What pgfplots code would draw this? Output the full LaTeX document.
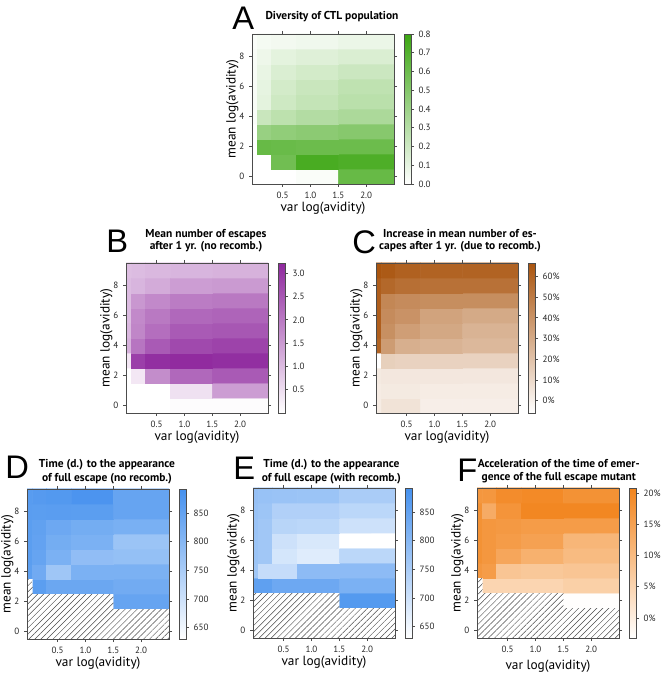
\documentclass[border=0pt]{standalone}
\usepackage{fontspec}
\setmainfont{PT Sans}
\newfontfamily\letterfont{Liberation Sans}
\usepackage{pgfplots}
\pgfplotsset{compat=1.18}
\usepackage{pgfplotstable}
\usetikzlibrary{patterns.meta}

\pgfkeys{/pgf/number format/assume math mode=true}

\pgfplotsset{
  colormap={cgreen}{rgb255=(255,255,255) rgb255=(60,166,18)},
  colormap={cpurple}{rgb255=(255,255,255) rgb255=(143,40,158)},
  colormap={cbrown}{rgb255=(255,255,255) rgb255=(170,85,15)},
  colormap={cblue}{rgb255=(255,255,255) rgb255=(70,145,238)},
  colormap={corange}{rgb255=(255,255,255) rgb255=(242,132,28)},
  colorbar shift/.style={xshift=7.5pt},
  hm/.style={
    scale only axis, width=106.5pt, height=112.5pt, anchor=north west,
    xmin=-0.05, xmax=2.5, ymin=-0.5, ymax=9.5,
    xtick={0.5,1,1.5,2}, ytick={0,2,4,6,8},
    xticklabels={0.5,1.0,1.5,2.0},
    tick align=outside, major tick length=2.25pt,
    axis line style={draw=black!70, line width=0.6pt},
    every tick/.style={black!70, line width=0.5pt},
    tick label style={font=\fontsize{6.8}{7}\selectfont, text=black!85},
    label style={font=\fontsize{6.9}{8}\selectfont, text=black!85},
    xlabel={var log(avidity)}, ylabel={mean log(avidity)},
    every axis x label/.style={at={(axis description cs:0.5,-0.16)}, anchor=center},
    every axis y label/.style={at={(axis description cs:-0.138,0.5)}, anchor=center, rotate=90},
    axis on top,
    colorbar,
    colorbar style={at={(parent axis.north east)}, anchor=north west,
      width=5.5pt, ytick pos=right, yticklabel pos=right,
      tick align=outside, major tick length=2pt,
      axis line style={draw=black!70, line width=0.6pt},
      every tick/.style={black!70, line width=0.5pt},
      tick label style={font=\fontsize{6.8}{7}\selectfont, text=black!85}},
  },
  hatch/.style={draw=none, fill=white, postaction={pattern={Lines[angle=45,distance=3.2pt,line width=0.35pt]}, pattern color=black!70}},
}

\pgfplotstableread[row sep=\\]{
x y c\\
0 0 0\\ 0.1 0 0\\ 0.5 0 0\\ 1 0 0.02\\ 2 0 0.62\\
0 1 0\\ 0.1 1 0\\ 0.5 1 0.58\\ 1 1 0.74\\ 2 1 0.72\\
0 2 0\\ 0.1 2 0.62\\ 0.5 2 0.61\\ 1 2 0.60\\ 2 2 0.60\\
0 3 0\\ 0.1 3 0.42\\ 0.5 3 0.45\\ 1 3 0.47\\ 2 3 0.49\\
0 4 0.02\\ 0.1 4 0.22\\ 0.5 4 0.27\\ 1 4 0.31\\ 2 4 0.34\\
0 5 0.03\\ 0.1 5 0.11\\ 0.5 5 0.20\\ 1 5 0.24\\ 2 5 0.28\\
0 6 0.03\\ 0.1 6 0.10\\ 0.5 6 0.18\\ 1 6 0.22\\ 2 6 0.26\\
0 7 0.03\\ 0.1 7 0.09\\ 0.5 7 0.15\\ 1 7 0.18\\ 2 7 0.21\\
0 8 0.03\\ 0.1 8 0.07\\ 0.5 8 0.11\\ 1 8 0.13\\ 2 8 0.15\\
0 9 0.02\\ 0.1 9 0.04\\ 0.5 9 0.05\\ 1 9 0.06\\ 2 9 0.08\\
}\tabA

\pgfplotstableread[row sep=\\]{
x y c\\
0 0 0\\ 0.1 0 0\\ 0.5 0 0\\ 1 0 0.05\\ 2 0 0.05\\
0 1 0\\ 0.1 1 0\\ 0.5 1 0\\ 1 1 0.45\\ 2 1 1.45\\
0 2 0\\ 0.1 2 0.35\\ 0.5 2 1.70\\ 1 2 2.25\\ 2 2 2.45\\
0 3 0.35\\ 0.1 3 2.85\\ 0.5 3 3.10\\ 1 3 3.15\\ 2 3 3.10\\
0 4 1.15\\ 0.1 4 2.05\\ 0.5 4 2.45\\ 1 4 2.70\\ 2 4 2.80\\
0 5 1.05\\ 0.1 5 1.80\\ 0.5 5 2.15\\ 1 5 2.45\\ 2 5 2.50\\
0 6 1.00\\ 0.1 6 1.75\\ 0.5 6 2.00\\ 1 6 2.25\\ 2 6 2.30\\
0 7 1.00\\ 0.1 7 1.55\\ 0.5 7 1.75\\ 1 7 1.95\\ 2 7 2.00\\
0 8 1.00\\ 0.1 8 1.10\\ 0.5 8 1.25\\ 1 8 1.45\\ 2 8 1.50\\
0 9 0.95\\ 0.1 9 1.00\\ 0.5 9 1.05\\ 1 9 1.10\\ 2 9 1.15\\
}\tabB

\pgfplotstableread[row sep=\\]{
x y c\\
0 0 2\\ 0.1 0 6\\ 0.5 0 6\\ 1 0 1\\ 2 0 1\\
0 1 2\\ 0.1 1 3\\ 0.5 1 3\\ 1 1 2\\ 2 1 2\\
0 2 3\\ 0.1 2 4\\ 0.5 2 4\\ 1 2 4\\ 2 2 4\\
0 3 -6\\ 0.1 3 14\\ 0.5 3 13\\ 1 3 13\\ 2 3 13\\
0 4 60\\ 0.1 4 36\\ 0.5 4 28\\ 1 4 26\\ 2 4 24\\
0 5 62\\ 0.1 5 41\\ 0.5 5 35\\ 1 5 31\\ 2 5 26\\
0 6 62\\ 0.1 6 43\\ 0.5 6 40\\ 1 6 33\\ 2 6 30\\
0 7 62\\ 0.1 7 45\\ 0.5 7 43\\ 1 7 42\\ 2 7 42\\
0 8 62\\ 0.1 8 58\\ 0.5 8 55\\ 1 8 54\\ 2 8 54\\
0 9 66\\ 0.1 9 64\\ 0.5 9 61\\ 1 9 60\\ 2 9 60\\
}\tabC

\pgfplotstableread[row sep=\\]{
x y c\\
0 0 630\\ 0.1 0 630\\ 0.5 0 630\\ 1 0 630\\ 2 0 630\\
0 1 630\\ 0.1 1 630\\ 0.5 1 630\\ 1 1 630\\ 2 1 630\\
0 2 630\\ 0.1 2 630\\ 0.5 2 630\\ 1 2 630\\ 2 2 845\\
0 3 630\\ 0.1 3 860\\ 0.5 3 838\\ 1 3 838\\ 2 3 828\\
0 4 858\\ 0.1 4 830\\ 0.5 4 765\\ 1 4 815\\ 2 4 815\\
0 5 860\\ 0.1 5 845\\ 0.5 5 815\\ 1 5 785\\ 2 5 780\\
0 6 860\\ 0.1 6 850\\ 0.5 6 825\\ 1 6 815\\ 2 6 770\\
0 7 860\\ 0.1 7 852\\ 0.5 7 835\\ 1 7 825\\ 2 7 818\\
0 8 862\\ 0.1 8 860\\ 0.5 8 862\\ 1 8 860\\ 2 8 845\\
0 9 865\\ 0.1 9 868\\ 0.5 9 872\\ 1 9 882\\ 2 9 845\\
}\tabD

\pgfplotstableread[row sep=\\]{
x y c\\
0 0 630\\ 0.1 0 630\\ 0.5 0 630\\ 1 0 630\\ 2 0 630\\
0 1 630\\ 0.1 1 630\\ 0.5 1 630\\ 1 1 630\\ 2 1 630\\
0 2 630\\ 0.1 2 630\\ 0.5 2 630\\ 1 2 630\\ 2 2 870\\
0 3 855\\ 0.1 3 855\\ 0.5 3 835\\ 1 3 835\\ 2 3 815\\
0 4 765\\ 0.1 4 712\\ 0.5 4 712\\ 1 4 790\\ 2 4 790\\
0 5 770\\ 0.1 5 762\\ 0.5 5 690\\ 1 5 675\\ 2 5 725\\
0 6 770\\ 0.1 6 762\\ 0.5 6 700\\ 1 6 685\\ 2 6 630\\
0 7 772\\ 0.1 7 762\\ 0.5 7 730\\ 1 7 725\\ 2 7 700\\
0 8 775\\ 0.1 8 768\\ 0.5 8 740\\ 1 8 740\\ 2 8 725\\
0 9 778\\ 0.1 9 775\\ 0.5 9 772\\ 1 9 770\\ 2 9 750\\
}\tabE

\pgfplotstableread[row sep=\\]{
x y c\\
0 0 -3.2\\ 0.1 0 -3.2\\ 0.5 0 -3.2\\ 1 0 -3.2\\ 2 0 -3.2\\
0 1 -3.2\\ 0.1 1 -3.2\\ 0.5 1 -3.2\\ 1 1 -3.2\\ 2 1 -3.2\\
0 2 -3.2\\ 0.1 2 -3.2\\ 0.5 2 -3.2\\ 1 2 -3.2\\ 2 2 -3\\
0 3 -3.2\\ 0.1 3 5\\ 0.5 3 5\\ 1 3 5\\ 2 3 6\\
0 4 17\\ 0.1 4 16\\ 0.5 4 8\\ 1 4 7.5\\ 2 4 8\\
0 5 18\\ 0.1 5 17\\ 0.5 5 14\\ 1 5 12\\ 2 5 10\\
0 6 18\\ 0.1 6 17\\ 0.5 6 16\\ 1 6 15\\ 2 6 11\\
0 7 18\\ 0.1 7 17\\ 0.5 7 16.5\\ 1 7 16\\ 2 7 16\\
0 8 18\\ 0.1 8 13\\ 0.5 8 17.5\\ 1 8 20\\ 2 8 20\\
0 9 17\\ 0.1 9 17\\ 0.5 9 19\\ 1 9 19.5\\ 2 9 18\\
}\tabF

\newcommand{\ttl}[2]{\fontsize{8.6}{#2}\selectfont\bfseries #1}

\begin{document}
\begin{tikzpicture}
% A
\begin{axis}[hm, at={(189pt,480pt)}, colormap name=cgreen, point meta min=0, point meta max=0.8,
  colorbar style={ytick={0,0.1,...,0.8}, yticklabel style={/pgf/number format/.cd, fixed, fixed zerofill, precision=1}}]
\addplot[matrix plot*, mesh/cols=5, point meta=explicit] table[x=x, y=y, meta=c] {\tabA};
\end{axis}
% B
\begin{axis}[hm, at={(94.5pt,308.25pt)}, colormap name=cpurple, point meta min=0, point meta max=3.22,
  colorbar style={ytick={0.5,1,...,3}, yticklabel style={/pgf/number format/.cd, fixed, fixed zerofill, precision=1}}]
\addplot[matrix plot*, mesh/cols=5, point meta=explicit] table[x=x, y=y, meta=c] {\tabB};
\end{axis}
% C
\begin{axis}[hm, at={(282pt,308.25pt)}, colormap name=cbrown, point meta min=-6, point meta max=66.5,
  colorbar style={ytick={0,10,...,60}, yticklabel={\pgfmathprintnumber{\tick}\%}}]
\addplot[matrix plot*, mesh/cols=5, point meta=explicit] table[x=x, y=y, meta=c] {\tabC};
\end{axis}
% D
\begin{axis}[hm, at={(20.25pt,138.75pt)}, colormap name=cblue, point meta min=630, point meta max=892,
  colorbar style={ytick={650,700,...,850}}]
\addplot[matrix plot*, mesh/cols=5, point meta=explicit] table[x=x, y=y, meta=c] {\tabD};
\addplot[hatch] coordinates {(-0.2,-0.7) (2.7,-0.7) (2.7,1.5) (1.5,1.5) (1.5,2.5) (0.05,2.5) (0.05,3.5) (-0.2,3.5)} -- cycle;
\end{axis}
% E
\begin{axis}[hm, at={(189.75pt,139.5pt)}, colormap name=cblue, point meta min=630, point meta max=892,
  colorbar style={ytick={650,700,...,850}}]
\addplot[matrix plot*, mesh/cols=5, point meta=explicit] table[x=x, y=y, meta=c] {\tabE};
\addplot[hatch] coordinates {(-0.2,-0.7) (2.7,-0.7) (2.7,1.5) (1.5,1.5) (1.5,2.5) (-0.2,2.5)} -- cycle;
\end{axis}
% F
\begin{axis}[hm, at={(357.75pt,139.5pt)}, colormap name=corange, point meta min=-3.2, point meta max=20.8,
  every axis x label/.style={at={(axis description cs:0.5,-0.19)}, anchor=center},
  colorbar style={ytick={0,5,...,20}, yticklabel={\pgfmathprintnumber{\tick}\%}}]
\addplot[matrix plot*, mesh/cols=5, point meta=explicit] table[x=x, y=y, meta=c] {\tabF};
\addplot[hatch] coordinates {(-0.2,-0.7) (2.7,-0.7) (2.7,1.5) (1.5,1.5) (1.5,2.5) (0.05,2.5) (0.05,3.5) (-0.2,3.5)} -- cycle;
\end{axis}

% titles
\node[align=center, font=\ttl{}{10}] at (249pt,492.75pt) {Diversity of CTL population};
\node[align=center, font=\ttl{}{8.8}] at (154.5pt,324.9pt) {Mean number of escapes\\after 1 yr. (no recomb.)};
\node[align=center, font=\ttl{}{8.8}] at (345pt,324.75pt) {Increase in mean number of es-\\capes after 1 yr. (due to recomb.)};
\node[align=center, font=\ttl{}{10.8}] at (80.25pt,151.7pt) {Time (d.) to the appearance\\of full escape (no recomb.)};
\node[align=center, font=\ttl{}{10.5}] at (248.5pt,152pt) {Time (d.) to the appearance\\of full escape (with recomb.)};
\node[align=center, font=\ttl{}{9.8}] at (419.1pt,152.4pt) {Acceleration of the time of emer-\\gence of the full escape mutant};

% panel letters
\tikzset{pl/.style={anchor=north west, inner sep=0pt, font=\letterfont\fontsize{24.5}{25}\selectfont}}
\node[pl] at (174pt,500.5pt) {A};
\node[pl] at (79.5pt,333pt) {B};
\node[pl] at (264pt,333pt) {C};
\node[pl] at (3.75pt,163.5pt) {D};
\node[pl] at (174.75pt,163pt) {E};
\node[pl] at (342.75pt,161.25pt) {F};

\pgfresetboundingbox
\path (0,0) rectangle (496.5pt,505.5pt);
\end{tikzpicture}
\end{document}
